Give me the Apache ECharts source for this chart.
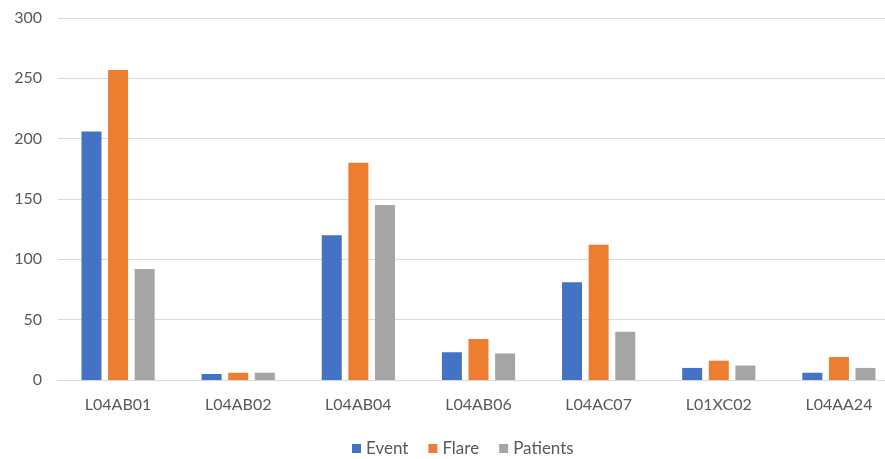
<!DOCTYPE html>
<html>
<head>
<meta charset="utf-8">
<script src="https://cdn.jsdelivr.net/npm/echarts@6/dist/echarts.min.js"></script>
<style>
  html, body { margin: 0; padding: 0; background: #ffffff; }
  #chart { width: 885px; height: 459px; }
</style>
</head>
<body>
<div id="chart"></div>
<script>
// ATC codes along the x axis
const categories = ['L04AB01', 'L04AB02', 'L04AB04', 'L04AB06', 'L04AC07', 'L01XC02', 'L04AA24'];

// Counts per code
const eventValues = [206, 5, 120, 23, 81, 10, 6];
const flareValues = [257, 6, 180, 34, 112, 16, 19];
const patientValues = [92, 6, 145, 22, 40, 12, 10];

const seriesNames = ['Event', 'Flare', 'Patients'];
const seriesColors = ['#4472C4', '#ED7D31', '#A5A5A5'];

const FONT = 'Lato, "Open Sans", sans-serif';
const TEXT = '#595959';

const chart = echarts.init(document.getElementById('chart'), null, { renderer: 'canvas' });

const seriesData = [eventValues, flareValues, patientValues];

chart.setOption({
  animation: false,
  color: seriesColors,
  // the plot runs a little past the right edge of the canvas
  grid: { left: 58, top: 18, right: -14, bottom: 79, containLabel: false, outerBoundsMode: 'none' },
  legend: {
    top: 440,
    left: 352,
    padding: 0,
    itemWidth: 9,
    itemHeight: 9,
    itemGap: 20,
    icon: 'rect',
    textStyle: { color: TEXT, fontFamily: FONT, fontSize: 17 },
    data: seriesNames
  },
  xAxis: {
    type: 'category',
    data: categories,
    axisLine: { lineStyle: { color: '#D9D9D9', width: 1 } },
    axisTick: { show: false },
    axisLabel: { color: TEXT, fontFamily: FONT, fontSize: 16, margin: 17 }
  },
  yAxis: {
    type: 'value',
    min: 0,
    max: 300,
    interval: 50,
    axisLine: { show: false },
    axisTick: { show: false },
    splitLine: { lineStyle: { color: '#D9D9D9', width: 1 } },
    axisLabel: { color: TEXT, fontFamily: FONT, fontSize: 16, margin: 16 }
  },
  series: seriesNames.map((name, i) => ({
    name: name,
    type: 'bar',
    data: seriesData[i],
    barWidth: 20,
    barGap: '33%',
    itemStyle: { color: seriesColors[i] }
  }))
});
</script>
</body>
</html>
